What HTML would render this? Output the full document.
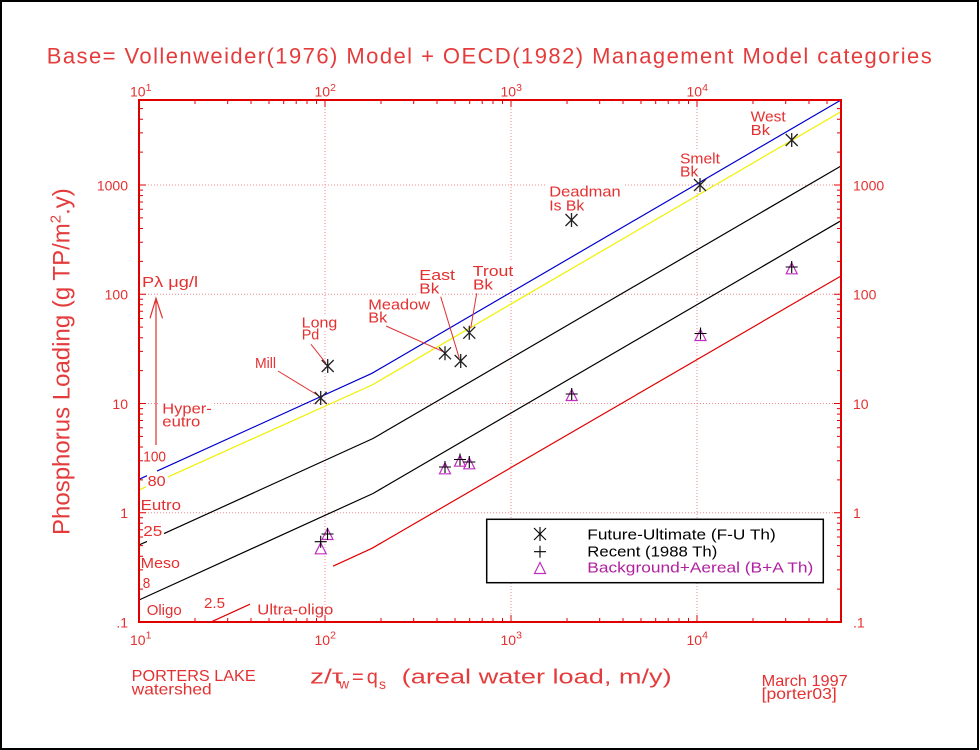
<!DOCTYPE html>
<html>
<head>
<meta charset="utf-8">
<style>
html,body{margin:0;padding:0;background:#fff;}
svg{display:block;}
text{font-family:"Liberation Sans",sans-serif;}
</style>
</head>
<body>
<svg width="980" height="750" viewBox="0 0 980 750" xmlns="http://www.w3.org/2000/svg">
<rect x="0" y="0" width="980" height="750" fill="#fff"/>
<rect x="1" y="1" width="977" height="748" fill="none" stroke="#000" stroke-width="2"/>

<text x="46.7" y="63.3" font-size="22" fill="#e43c3c" textLength="885" lengthAdjust="spacing">Base= Vollenweider(1976) Model + OECD(1982) Management Model categories</text>

<g stroke="#f08a8a" stroke-width="1" stroke-dasharray="1,2" fill="none">
<path d="M325 100V622M511 100V622M697 100V622"/>
<path d="M139 185H841M139 294.25H841M139 403.5H841M139 512.75H841"/>
</g>

<g fill="none" stroke-width="1.2">
<path stroke="#0000d0" d="M139 479.3L147 475.7M157 471.1L372 373.3L841 100"/>
<path stroke="#f0f000" d="M139 490L146 486.8M168 476.9L372 385L841 111.7"/>
<path stroke="#000" d="M139 545L147 541.4M164 533.6L373 438.5L841 166"/>
<path stroke="#000" d="M139 600L373 493.5L841 220.7"/>
<path stroke="#e00000" d="M211.7 621.7L250 604.2M333 566.2L372 548.3L841 276"/>
</g>

<g stroke="#e03030" stroke-width="1.2" fill="none">
<path d="M156 298.3V445M150 318.3L156 298.3L162.5 318.3"/>
</g>

<g fill="#fff">
<rect x="160" y="399" width="54" height="16"/>
<rect x="160" y="414" width="42" height="15"/>
<rect x="300" y="314" width="39" height="16"/>
<rect x="300" y="327" width="21" height="15"/>
<rect x="366" y="295" width="66" height="17"/>
<rect x="366" y="309" width="23" height="16"/>
<rect x="417" y="266" width="40" height="17"/>
<rect x="417" y="280" width="24" height="16"/>
<rect x="471" y="262" width="44" height="17"/>
<rect x="471" y="276" width="24" height="15"/>
<rect x="547" y="183" width="76" height="17"/>
<rect x="547" y="197" width="39" height="16"/>
<rect x="678" y="149" width="44" height="17"/>
<rect x="678" y="164" width="22" height="15"/>
<rect x="749" y="107" width="39" height="17"/>
<rect x="749" y="122" width="23" height="15"/>
<rect x="253" y="355" width="25" height="16"/>
</g>

<g stroke="#e03030" stroke-width="1" fill="none">
<path d="M278 371L319 396"/>
<path d="M311 344.3L326 363.3"/>
<path d="M386 326L443.3 351.7"/>
<path d="M440.7 296.7L459.3 358.3"/>
<path d="M476.7 293.3L470.7 328.3"/>
</g>

<g fill="#e43030" font-size="15">
<text x="142" y="287" font-size="15" textLength="56" lengthAdjust="spacingAndGlyphs">Pλ μg/l</text>
<text x="162.3" y="413.3" textLength="49.4" lengthAdjust="spacingAndGlyphs">Hyper-</text>
<text x="162.3" y="426.7" textLength="38" lengthAdjust="spacingAndGlyphs">eutro</text>
<text x="143.3" y="461.7" textLength="22.7" lengthAdjust="spacingAndGlyphs">100</text>
<text x="147.7" y="486" textLength="18" lengthAdjust="spacingAndGlyphs">80</text>
<text x="140.7" y="510" textLength="40.3" lengthAdjust="spacingAndGlyphs">Eutro</text>
<text x="143.3" y="536" textLength="19" lengthAdjust="spacingAndGlyphs">25</text>
<text x="140.7" y="568" textLength="39.3" lengthAdjust="spacingAndGlyphs">Meso</text>
<text x="142.7" y="588" textLength="7.5" lengthAdjust="spacingAndGlyphs">8</text>
<text x="146.7" y="615" textLength="35" lengthAdjust="spacingAndGlyphs">Oligo</text>
<text x="204" y="608" textLength="21" lengthAdjust="spacingAndGlyphs">2.5</text>
<text x="257.3" y="614.5" textLength="76" lengthAdjust="spacingAndGlyphs">Ultra-oligo</text>

<text x="255" y="368" textLength="21" lengthAdjust="spacingAndGlyphs">Mill</text>
<text x="301.7" y="327.3" textLength="35.6" lengthAdjust="spacingAndGlyphs">Long</text>
<text x="301.7" y="339.3" textLength="17.6" lengthAdjust="spacingAndGlyphs">Pd</text>
<text x="368.3" y="309.3" textLength="61.7" lengthAdjust="spacingAndGlyphs">Meadow</text>
<text x="368.3" y="322.7" textLength="19" lengthAdjust="spacingAndGlyphs">Bk</text>
<text x="419.3" y="280" textLength="35.7" lengthAdjust="spacingAndGlyphs">East</text>
<text x="419.3" y="293.3" textLength="20" lengthAdjust="spacingAndGlyphs">Bk</text>
<text x="472.7" y="276" textLength="40.6" lengthAdjust="spacingAndGlyphs">Trout</text>
<text x="473" y="289.3" textLength="20" lengthAdjust="spacingAndGlyphs">Bk</text>
<text x="549.3" y="196.7" textLength="71.4" lengthAdjust="spacingAndGlyphs">Deadman</text>
<text x="549.3" y="210.3" textLength="35" lengthAdjust="spacingAndGlyphs">Is Bk</text>
<text x="680" y="163.3" textLength="40" lengthAdjust="spacingAndGlyphs">Smelt</text>
<text x="680" y="176.7" textLength="18.3" lengthAdjust="spacingAndGlyphs">Bk</text>
<text x="750.7" y="121.7" textLength="35" lengthAdjust="spacingAndGlyphs">West</text>
<text x="750.7" y="135" textLength="19.3" lengthAdjust="spacingAndGlyphs">Bk</text>
</g>

<g fill="none" stroke="#c030c0" stroke-width="1.2">
<path d="M320.7 542.8L315.2 553.8H326.2Z"/>
<path d="M327.5 528.5L322 539.5H333Z"/>
<path d="M445 462.8L439.5 473.8H450.5Z"/>
<path d="M460 455.2L454.5 466.2H465.5Z"/>
<path d="M469.3 457.8L463.8 468.8H474.8Z"/>
<path d="M571.7 389.5L566.2 400.5H577.2Z"/>
<path d="M700.5 329.5L695 340.5H706Z"/>
<path d="M791.7 262.8L786.2 273.8H797.2Z"/>
</g>

<g stroke="#000" stroke-width="1.1" fill="none">
<path d="M314.7 541.7h12M320.7 535.7v12"/>
<path d="M321.5 534h12M327.5 528v12"/>
<path d="M439 467h12M445 461v12"/>
<path d="M454 459.5h12M460 453.5v12"/>
<path d="M463.3 462h12M469.3 456v12"/>
<path d="M565.7 394h12M571.7 388v12"/>
<path d="M694.5 333.5h12M700.5 327.5v12"/>
<path d="M785.7 267h12M791.7 261v12"/>
</g>

<g stroke="#222" stroke-width="1.3" fill="none">
<path d="M320.7 391v14M314.7 392l12 12M326.7 392l-12 12"/>
<path d="M327.7 359v14M321.7 360l12 12M333.7 360l-12 12"/>
<path d="M445 346.3v14M439 347.3l12 12M451 347.3l-12 12"/>
<path d="M460.7 354v14M454.7 355l12 12M466.7 355l-12 12"/>
<path d="M469.3 325.7v14M463.3 326.7l12 12M475.3 326.7l-12 12"/>
<path d="M571.5 213v14M565.5 214l12 12M577.5 214l-12 12"/>
<path d="M700 178v14M694 179l12 12M706 179l-12 12"/>
<path d="M791.7 133v14M785.7 134l12 12M797.7 134l-12 12"/>
</g>

<rect x="486.7" y="519.3" width="336.6" height="63.4" fill="#fff" stroke="#000" stroke-width="1.5"/>
<g stroke="#000" stroke-width="1.1" fill="none">
<path d="M540 527v14M534 528l12 12M546 528l-12 12"/>
<path d="M534 551.7h12M540 545.7v12"/>
</g>
<path d="M540 562.5L534.5 573.5H545.5Z" fill="none" stroke="#c030c0" stroke-width="1.2"/>
<g font-size="15">
<text x="587.3" y="539.3" fill="#000" textLength="188.4" lengthAdjust="spacingAndGlyphs">Future-Ultimate (F-U Th)</text>
<text x="587.3" y="556.3" fill="#000" textLength="130" lengthAdjust="spacingAndGlyphs">Recent (1988 Th)</text>
<text x="587.3" y="572.7" fill="#b0209f" textLength="226" lengthAdjust="spacingAndGlyphs">Background+Aereal (B+A Th)</text>
</g>

<rect x="139" y="100" width="702" height="522" fill="none" stroke="#e00000" stroke-width="2"/>

<g stroke="#e00000" stroke-width="1" fill="none">
<path d="M139 589.1h4M139 569.9h4M139 556.2h4M139 545.6h4M139 537h4M139 529.7h4M139 523.3h4M139 517.8h4M139 479.9h4M139 460.7h4M139 447h4M139 436.4h4M139 427.8h4M139 420.5h4M139 414.1h4M139 408.6h4M139 370.6h4M139 351.4h4M139 337.7h4M139 327.1h4M139 318.5h4M139 311.2h4M139 304.8h4M139 299.3h4M139 261.4h4M139 242.2h4M139 228.5h4M139 217.9h4M139 209.3h4M139 202h4M139 195.6h4M139 190.1h4M139 152.1h4M139 132.9h4M139 119.2h4M139 108.6h4"/>
<path d="M139 512.75h7M139 403.5h7M139 294.25h7M139 185h7"/>
<path d="M841 589.1h-4M841 569.9h-4M841 556.2h-4M841 545.6h-4M841 537h-4M841 529.7h-4M841 523.3h-4M841 517.8h-4M841 479.9h-4M841 460.7h-4M841 447h-4M841 436.4h-4M841 427.8h-4M841 420.5h-4M841 414.1h-4M841 408.6h-4M841 370.6h-4M841 351.4h-4M841 337.7h-4M841 327.1h-4M841 318.5h-4M841 311.2h-4M841 304.8h-4M841 299.3h-4M841 261.4h-4M841 242.2h-4M841 228.5h-4M841 217.9h-4M841 209.3h-4M841 202h-4M841 195.6h-4M841 190.1h-4M841 152.1h-4M841 132.9h-4M841 119.2h-4M841 108.6h-4"/>
<path d="M841 512.75h-7M841 403.5h-7M841 294.25h-7M841 185h-7"/>
<path d="M195 100v4M227.7 100v4M251 100v4M269 100v4M283.7 100v4M296.2 100v4M307 100v4M316.5 100v4M381 100v4M413.7 100v4M437 100v4M455 100v4M469.7 100v4M482.2 100v4M493 100v4M502.5 100v4M567 100v4M599.7 100v4M623 100v4M641 100v4M655.7 100v4M668.2 100v4M679 100v4M688.5 100v4M753 100v4M785.7 100v4M809 100v4M827 100v4"/>
<path d="M325 100v7M511 100v7M697 100v7"/>
<path d="M195 622v-4M227.7 622v-4M251 622v-4M269 622v-4M283.7 622v-4M296.2 622v-4M307 622v-4M316.5 622v-4M381 622v-4M413.7 622v-4M437 622v-4M455 622v-4M469.7 622v-4M482.2 622v-4M493 622v-4M502.5 622v-4M567 622v-4M599.7 622v-4M623 622v-4M641 622v-4M655.7 622v-4M668.2 622v-4M679 622v-4M688.5 622v-4M753 622v-4M785.7 622v-4M809 622v-4M827 622v-4"/>
<path d="M325 622v-7M511 622v-7M697 622v-7"/>
</g>

<g fill="#e43030" font-size="14">
<text x="128" y="190.3" text-anchor="end">1000</text>
<text x="128" y="299.6" text-anchor="end">100</text>
<text x="128" y="408.9" text-anchor="end">10</text>
<text x="128" y="518.2" text-anchor="end">1</text>
<text x="128" y="627.4" text-anchor="end">.1</text>
<text x="853" y="190.3">1000</text>
<text x="853" y="299.6">100</text>
<text x="853" y="408.9">10</text>
<text x="853" y="518.2">1</text>
<text x="853" y="627.4">.1</text>
</g>
<g fill="#e43030" font-size="14">
<text x="130" y="96.7">10<tspan font-size="10.5" dy="-5.5">1</tspan></text>
<text x="314.5" y="96.7">10<tspan font-size="10.5" dy="-5.5">2</tspan></text>
<text x="500.5" y="96.7">10<tspan font-size="10.5" dy="-5.5">3</tspan></text>
<text x="686.5" y="96.7">10<tspan font-size="10.5" dy="-5.5">4</tspan></text>
<text x="130" y="645">10<tspan font-size="10.5" dy="-6.5">1</tspan></text>
<text x="314.5" y="645">10<tspan font-size="10.5" dy="-6.5">2</tspan></text>
<text x="500.5" y="645">10<tspan font-size="10.5" dy="-6.5">3</tspan></text>
<text x="686.5" y="645">10<tspan font-size="10.5" dy="-6.5">4</tspan></text>
</g>

<text transform="translate(69.5,535) rotate(-90)" font-size="24" fill="#e43c3c">Phosphorus Loading (g TP/m<tspan font-size="15" dy="-9">2</tspan><tspan dy="9">.y)</tspan></text>

<g fill="#e43c3c">
<text x="310" y="683.3" font-size="20" textLength="33" lengthAdjust="spacingAndGlyphs">z/τ</text>
<text x="339" y="688.5" font-size="14">w</text>
<text x="352" y="683.3" font-size="20">=</text>
<text x="366.7" y="683.3" font-size="20">q</text>
<text x="379" y="689" font-size="14">s</text>
<text x="401.7" y="683.3" font-size="20" textLength="270" lengthAdjust="spacingAndGlyphs">(areal water load, m/y)</text>
</g>

<g fill="#e43030" font-size="16">
<text x="131.7" y="681" textLength="124" lengthAdjust="spacingAndGlyphs">PORTERS LAKE</text>
<text x="131.7" y="694.3" textLength="80" lengthAdjust="spacingAndGlyphs">watershed</text>
<text x="761.7" y="686" textLength="86" lengthAdjust="spacingAndGlyphs">March 1997</text>
<text x="761.7" y="699" textLength="75" lengthAdjust="spacingAndGlyphs">[porter03]</text>
</g>
</svg>
</body>
</html>
